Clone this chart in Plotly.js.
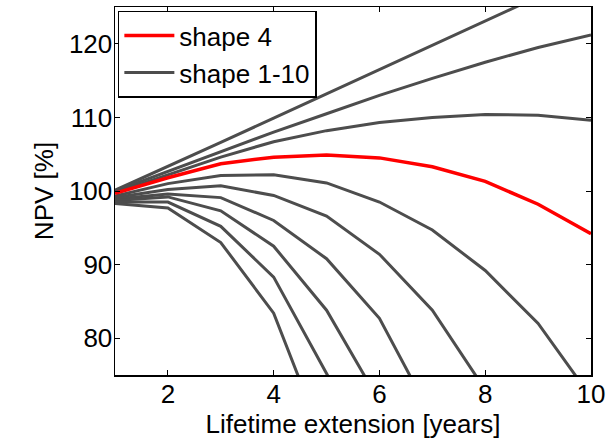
<!DOCTYPE html>
<html>
<head>
<meta charset="utf-8">
<script src="https://cdn.plot.ly/plotly-3.0.1.min.js"></script>
<style>html,body{margin:0;padding:0;background:#fff;}#chart{width:613px;height:443px;}</style>
</head>
<body>
<div id="chart"></div>
<script>
// Lifetime extension [years]
var years = [1, 2, 3, 4, 5, 6, 7, 8, 9, 10];
// NPV [%] for each shape
var shape1  = [100.1, 103.3, 106.6, 109.9, 113.2, 116.5, 119.8, 123.1, 126.4, 129.7];
var shape2  = [100.0, 102.7, 105.4, 108.0, 110.5, 113.0, 115.3, 117.5, 119.5, 121.2];
var shape3  = [99.8, 102.2, 104.6, 106.7, 108.2, 109.3, 110.0, 110.4, 110.3, 109.6];
var shape4  = [99.7, 101.8, 103.7, 104.6, 104.9, 104.5, 103.3, 101.3, 98.2, 94.2];
var shape5  = [99.3, 101.0, 102.1, 102.2, 101.1, 98.5, 94.7, 89.2, 82.0, 72.0];
var shape6  = [99.1, 100.2, 100.7, 99.4, 96.6, 91.4, 83.8, 73.0];
var shape7  = [98.9, 99.6, 99.1, 96.0, 90.8, 82.7, 69.2];
var shape8  = [98.7, 99.2, 97.3, 92.5, 83.8, 71.4];
var shape9  = [98.5, 98.5, 95.2, 88.3, 75.2, 62.0];
var shape10 = [98.3, 97.7, 93.0, 83.4, 65.0];
var grayShapes = [shape1, shape2, shape3, shape5, shape6, shape7, shape8, shape9, shape10];
var legendNames = ['shape 4', 'shape 1-10'];

var gray = 'rgb(77,77,77)';
var font = 'Liberation Sans, Arial, sans-serif';
var traces = [];
grayShapes.forEach(function (ys, i) {
  traces.push({
    x: years.slice(0, ys.length), y: ys, type: 'scatter', mode: 'lines',
    line: {color: gray, width: 3},
    name: legendNames[1], legendgroup: 'g', showlegend: i === 0, legendrank: 2,
    hoverinfo: 'skip'
  });
});
traces.push({
  x: years, y: shape4, type: 'scatter', mode: 'lines',
  line: {color: 'rgb(255,0,0)', width: 3.5},
  name: legendNames[0], legendrank: 1, hoverinfo: 'skip'
});

var axisCommon = {
  showline: true, linecolor: '#000', linewidth: 1.5, mirror: 'allticks',
  ticks: 'inside', ticklen: 5, tickwidth: 1, tickcolor: '#000',
  showgrid: false, zeroline: false,
  tickfont: {family: font, size: 26, color: '#000'}
};
var layout = {
  width: 613, height: 443,
  margin: {l: 115, r: 22, t: 7, b: 68},
  paper_bgcolor: '#fff', plot_bgcolor: '#fff',
  showlegend: true,
  legend: {
    x: 0.006, y: 0.99, xanchor: 'left', yanchor: 'top',
    bgcolor: '#fff', bordercolor: '#000', borderwidth: 1.5,
    font: {family: font, size: 26, color: '#000'},
    itemwidth: 50, tracegroupgap: 0
  },
  xaxis: Object.assign({}, axisCommon, {
    range: [1, 10], tickvals: [2, 4, 6, 8, 10], ticklabelstandoff: -5,
    title: {text: 'Lifetime extension [years]', font: {family: font, size: 26, color: '#000'}, standoff: 0}
  }),
  yaxis: Object.assign({}, axisCommon, {
    range: [75, 125], tickvals: [80, 90, 100, 110, 120], ticklabelstandoff: -4,
    title: {text: 'NPV [%]', font: {family: font, size: 26, color: '#000'}, standoff: 8}
  })
};
Plotly.newPlot('chart', traces, layout, {staticPlot: true, displayModeBar: false});
</script>
</body>
</html>
